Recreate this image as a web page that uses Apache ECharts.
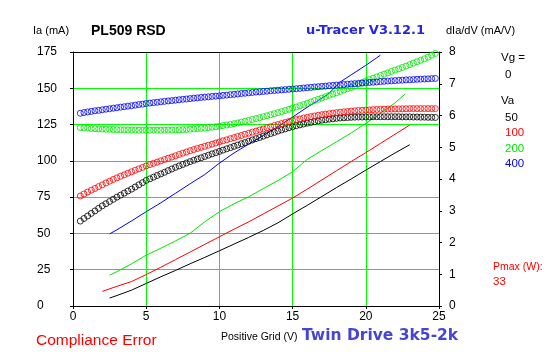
<!DOCTYPE html>
<html><head><meta charset="utf-8">
<script src="https://cdn.jsdelivr.net/npm/echarts@6/dist/echarts.min.js"></script>
<style>html,body{margin:0;padding:0;background:#fff}#c{width:547px;height:357px}</style>
</head><body><div id="c"></div>
<script>
// Grid voltage (V) for the Ia traces
var gridV = [0.5,0.75,
1,1.25,1.5,1.75, 2,2.25,2.5,2.75, 3,3.25,3.5,3.75, 4,4.25,4.5,4.75, 5,5.25,5.5,5.75,
6,6.25,6.5,6.75, 7,7.25,7.5,7.75, 8,8.25,8.5,8.75, 9,9.25,9.5,9.75, 10,10.25,10.5,10.75,
11,11.25,11.5,11.75, 12,12.25,12.5,12.75, 13,13.25,13.5,13.75, 14,14.25,14.5,14.75,
15,15.25,15.5,15.75, 16,16.25,16.5,16.75, 17,17.25,17.5,17.75, 18,18.25,18.5,18.75,
19,19.25,19.5,19.75, 20,20.25,20.5,20.75, 21,21.25,21.5,21.75, 22,22.25,22.5,22.75,
23,23.25,23.5,23.75, 24,24.25,24.5,24.75];

// Ia (mA) for each anode voltage
var ia50 = [58.5,60.3,
62,63.8,65.5,67.3, 69,70.5,72,73.5, 75,76.4,77.8,79.2, 80.5,82,83.5,85, 86.5,87.6,88.8,89.9,
91,92.1,93.3,94.4, 95.5,96.5,97.5,98.5, 99.5,100.4,101.3,102.1, 103,103.9,104.8,105.6, 106.5,107.4,108.3,109.1,
110,110.9,111.8,112.6, 113.5,114.4,115.3,116.1, 117,117.9,118.8,119.6, 120.5,121.3,122,122.8,
123.5,124.2,124.8,125.4, 126,126.5,127,127.5, 128,128.3,128.7,129, 129.3,129.5,129.7,129.8,
130,130.1,130.2,130.2, 130.3,130.3,130.4,130.4, 130.4,130.4,130.4,130.4, 130.4,130.4,130.3,130.3,
130.3,130.2,130.2,130.1, 130.1,130,130,129.9];
var ia100 = [75.8,77.2,
78.5,79.8,81,82.3, 83.5,84.8,86,87.2, 88.3,89.4,90.4,91.5, 92.5,93.5,94.5,95.5, 96.5,97.4,98.3,99.1,
100,100.9,101.8,102.6, 103.5,104.4,105.3,106.1, 107,107.8,108.5,109.3, 110,110.8,111.5,112.3, 113,113.8,114.5,115.3,
116,116.8,117.5,118.3, 119,119.8,120.5,121.3, 122,122.8,123.5,124.3, 125,125.7,126.4,127.1,
127.8,128.4,128.9,129.5, 130,130.5,130.9,131.4, 131.8,132.2,132.5,132.9, 133.2,133.5,133.8,134,
134.3,134.5,134.7,134.8, 135,135.1,135.3,135.4, 135.5,135.6,135.7,135.7, 135.8,135.8,135.9,135.9,
136,136,136,136, 136,136,136,136];
var ia200 = [122.9,122.7,
122.5,122.3,122.2,122, 121.9,121.8,121.7,121.6, 121.5,121.4,121.3,121.3, 121.2,121.2,121.1,121.1, 121.1,121.1,121.1,121.1,
121.1,121.1,121.2,121.2, 121.3,121.4,121.5,121.6, 121.8,122,122.2,122.4, 122.6,122.9,123.2,123.5, 123.9,124.3,124.7,125.1,
125.6,126.1,126.7,127.3, 127.9,128.5,129.1,129.7, 130.4,131.1,131.8,132.5, 133.2,133.9,134.7,135.5,
136.3,137.1,138,138.8, 139.7,140.6,141.5,142.4, 143.3,144.2,145.1,146, 146.9,147.8,148.7,149.7,
150.6,151.7,152.8,153.9, 155,156,156.9,157.9, 158.8,159.7,160.6,161.6, 162.5,163.4,164.4,165.3,
166.3,167.3,168.3,169.3, 170.3,171.5,172.8,174];
var ia400 = [132.8,133.3,
133.7,134.1,134.5,134.8, 135.2,135.6,135.9,136.3, 136.6,137,137.3,137.7, 138,138.4,138.8,139.1, 139.5,139.8,140.1,140.4,
140.7,141,141.3,141.5, 141.8,142.1,142.4,142.6, 142.9,143.2,143.4,143.7, 143.9,144.1,144.4,144.6, 144.8,145.1,145.3,145.6,
145.8,146.1,146.4,146.6, 146.9,147.1,147.4,147.6, 147.8,148,148.3,148.5, 148.7,148.9,149.1,149.3,
149.5,149.7,149.9,150.2, 150.4,150.6,150.9,151.1, 151.3,151.5,151.8,152, 152.2,152.4,152.6,152.8,
153,153.2,153.4,153.6, 153.8,154,154.2,154.4, 154.6,154.8,155,155.1, 155.3,155.5,155.6,155.8,
155.9,156,156.2,156.3, 156.4,156.5,156.7,156.8];

// dIa/dV (mA/V) traces: grid voltage and slope
var gmV50  = [2.5,3,4,5,6,7,8,9,10,11,12,13,14,15,16,17,18,19,20,21,22,23];
var gm50   = [0.25,0.33,0.5,0.71,0.92,1.12,1.33,1.53,1.74,1.95,2.16,2.38,2.62,2.9,3.17,3.45,3.73,4.0,4.28,4.55,4.82,5.08];
var gmV100 = [2,3,4,5,6,7,8,9,10,11,12,13,14,15,16,17,18,19,20,21,22,23];
var gm100  = [0.46,0.62,0.77,0.99,1.22,1.46,1.7,1.94,2.18,2.42,2.65,2.9,3.15,3.4,3.68,3.97,4.26,4.55,4.83,5.12,5.41,5.7];
var gmV200 = [2.5,3,4,5,6,7,8,9,10,11,12,13,14,15,16,17,18,19,20,21,22,22.7];
var gm200  = [0.97,1.08,1.33,1.6,1.82,2.05,2.29,2.65,2.97,3.22,3.44,3.7,3.95,4.23,4.62,4.9,5.17,5.45,5.75,6.07,6.4,6.68];
var gmV400 = [2.5,3,4,5,6,7,8,9,10,11,12,13,14,15,16,17,17.4,18.3,19,20,21];
var gm400  = [2.27,2.4,2.68,2.97,3.25,3.55,3.85,4.14,4.5,4.82,5.1,5.37,5.65,5.95,6.26,6.55,6.66,7.07,7.28,7.58,7.9];

var vaLabels = ['50','100','200','400'];
var colors = ['#000000','#ff0000','#00e400','#0000ff'];

function pairs(xs, ys){ var out=[]; for(var i=0;i<ys.length;i++) out.push([xs[i], ys[i]]); return out; }

var iaSets = [ia50, ia100, ia200, ia400];
var gmSets = [[gmV50,gm50],[gmV100,gm100],[gmV200,gm200],[gmV400,gm400]];
var series = [];
for (var k=0;k<4;k++){
  series.push({type:'line', yAxisIndex:1, xAxisIndex:0, data:pairs(gmSets[k][0], gmSets[k][1]),
    showSymbol:false, symbol:'none', lineStyle:{color:colors[k], width:1}, z:2});
}
for (var k=0;k<4;k++){
  series.push({type:'scatter', yAxisIndex:0, xAxisIndex:0, data:pairs(gridV, iaSets[k]),
    symbol:'circle', symbolSize:6,
    itemStyle:{color:'rgba(0,0,0,0)', borderColor:colors[k], borderWidth:1}, z:3});
}

var F = 'Liberation Sans, Arial, sans-serif';
function gtext(x,y,t,opt){
  opt = opt||{};
  return {type:'text', x:x, y:y, style:{text:t, fill:opt.color||'#000',
    font:(opt.weight||'normal')+' '+(opt.size||12)+'px '+(opt.family||F), verticalAlign:'middle', align:'left'}};
}

var graphics = [
  gtext(33,31,'Ia (mA)',{size:11}),
  gtext(91,31,'PL509 RSD',{size:14,weight:'bold'}),
  gtext(306,31,'u-Tracer V3.12.1',{size:13,weight:'bold',family:'DejaVu Sans, sans-serif',color:'#2424e6'}),
  gtext(446,31,'dIa/dV (mA/V)',{size:11}),
  gtext(501,58,'Vg =',{size:11.5}),
  gtext(505,75,'0',{size:11.5}),
  gtext(501,101,'Va',{size:11.5}),
  gtext(505,118,vaLabels[0],{size:11.5,color:colors[0]}),
  gtext(505,133,vaLabels[1],{size:11.5,color:colors[1]}),
  gtext(505,149,vaLabels[2],{size:11.5,color:colors[2]}),
  gtext(505,164,vaLabels[3],{size:11.5,color:colors[3]}),
  gtext(493,267,'Pmax (W):',{size:10.5,color:'#ff0000'}),
  gtext(493,282,'33',{size:11.5,color:'#ff0000'}),
  gtext(36,341,'Compliance Error',{size:15.5,color:'#ff0000'}),
  gtext(221,337.5,'Positive Grid (V)',{size:10.5}),
  gtext(302,336,'Twin Drive 3k5-2k',{size:15.5,weight:'bold',family:'DejaVu Sans, sans-serif',color:'#4646d2'})
];

var axisText = {color:'#000', fontFamily:F, fontSize:12};
var chart = echarts.init(document.getElementById('c'), null, {renderer:'canvas'});
chart.setOption({
  animation:false,
  backgroundColor:'#fff',
  grid:{left:73, right:108, top:52, bottom:51, show:false, containLabel:false},
  xAxis:[
    {type:'value', position:'bottom', min:0, max:25, interval:5,
     axisLine:{show:true, onZero:false, lineStyle:{color:'#000', width:1}},
     axisTick:{show:true, length:3, lineStyle:{color:'#000'}},
     axisLabel:Object.assign({margin:5}, axisText),
     splitLine:{show:true, showMinLine:false, showMaxLine:false, lineStyle:{color:'#00ff00', width:1}}},
    {type:'value', position:'top', min:0, max:25, interval:5,
     axisLine:{show:true, onZero:false, lineStyle:{color:'#000', width:1}},
     axisTick:{show:false}, axisLabel:{show:false}, splitLine:{show:false}}
  ],
  yAxis:[
    {type:'value', position:'left', min:0, max:175, interval:25,
     axisLine:{show:true, onZero:false, lineStyle:{color:'#000', width:1}},
     axisTick:{show:true, length:3, lineStyle:{color:'#000'}},
     axisLabel:Object.assign({margin:36, align:'left'}, axisText),
     splitLine:{show:true, showMinLine:false, showMaxLine:false, lineStyle:{color:'#00ff00', width:1}}},
    {type:'value', position:'right', min:0, max:8, interval:1,
     axisLine:{show:true, onZero:false, lineStyle:{color:'#000', width:1}},
     axisTick:{show:true, length:3, lineStyle:{color:'#000'}},
     axisLabel:Object.assign({margin:10, align:'left'}, axisText),
     splitLine:{show:false}}
  ],
  graphic:graphics,
  series:series
});
</script></body></html>
